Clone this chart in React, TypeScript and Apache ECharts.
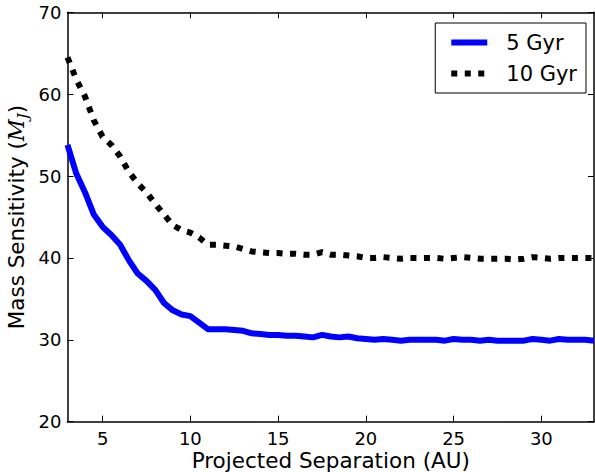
import React, { useEffect, useRef } from "react";
import * as echarts from "echarts";

// Projected separation (AU)
const separation = [
  3, 3.5, 4, 4.5, 5, 5.5, 6, 6.5, 7, 7.5, 8, 8.5, 9, 9.5, 10, 10.5, 11, 11.5, 12, 12.5,
  13, 13.5, 14, 14.5, 15, 15.5, 16, 16.5, 17, 17.5, 18, 18.5, 19, 19.5, 20, 20.5, 21, 21.5,
  22, 22.5, 23, 23.5, 24, 24.5, 25, 25.5, 26, 26.5, 27, 27.5, 28, 28.5, 29, 29.5, 30, 30.5,
  31, 31.5, 32, 32.5, 33,
];

// Mass sensitivity (M_J), 5 Gyr
const gyr5 = [
  53.8, 50.3, 48.0, 45.3, 43.8, 42.8, 41.6, 39.7, 38.1, 37.2, 36.1, 34.5, 33.6, 33.1, 32.9, 32.1,
  31.3, 31.3, 31.3, 31.2, 31.1, 30.8, 30.7, 30.6, 30.6, 30.5, 30.5, 30.4, 30.3, 30.6, 30.4, 30.3,
  30.4, 30.2, 30.1, 30.0, 30.1, 30.0, 29.9, 30.0, 30.0, 30.0, 30.0, 29.9, 30.1, 30.0, 30.0, 29.9,
  30.0, 29.9, 29.9, 29.9, 29.9, 30.1, 30.0, 29.9, 30.1, 30.0, 30.0, 30.0, 29.9,
];

// Mass sensitivity (M_J), 10 Gyr
const gyr10 = [
  64.5, 61.8, 59.7, 56.8, 54.8, 53.8, 52.4, 50.5, 49.1, 48.0, 46.6, 45.3, 44.0, 43.4, 43.1, 42.5,
  41.6, 41.6, 41.5, 41.4, 41.1, 40.8, 40.7, 40.6, 40.6, 40.5, 40.5, 40.4, 40.4, 40.7, 40.4, 40.4,
  40.3, 40.2, 40.0, 40.0, 40.1, 40.0, 39.9, 40.0, 40.0, 40.0, 40.0, 39.9, 40.0, 40.1, 40.0, 39.9,
  39.9, 39.9, 39.9, 39.8, 39.9, 40.1, 40.0, 39.9, 40.0, 40.0, 40.0, 40.0, 40.0,
];

const xTicks = [5, 10, 15, 20, 25, 30];
const seriesNames = ["5 Gyr", "10 Gyr"];

const FONT = "DejaVu Sans";
const DOTS: number[] = [6, 7.5];

export default function App() {
  const ref = useRef<HTMLDivElement>(null);

  useEffect(() => {
    if (!ref.current) return;
    const chart = echarts.init(ref.current, undefined, { renderer: "svg" });
    const axisLine = { show: true, onZero: false, lineStyle: { color: "#000", width: 1.5 } };
    const tick = { show: true, inside: true, length: 6, lineStyle: { color: "#000", width: 1 } };
    chart.setOption({
      animation: false,
      backgroundColor: "#fff",
      grid: {
        left: 67.5,
        top: 12.3,
        right: 1,
        bottom: 50.3,
        containLabel: false,
        outerBoundsMode: "none",
      },
      legend: {
        orient: "vertical",
        top: 23,
        right: 9,
        padding: [9, 9, 9, 13],
        itemGap: 10,
        itemWidth: 36,
        itemHeight: 20,
        borderColor: "#000",
        borderWidth: 1,
        borderRadius: 0,
        backgroundColor: "#fff",
        itemStyle: { opacity: 0 },
        textStyle: { fontSize: 21, fontFamily: FONT, color: "#000", padding: [0, 0, 0, 14] },
        data: [
          { name: seriesNames[0], itemStyle: { opacity: 0 }, lineStyle: { width: 6, color: "#0000ff", type: "solid" } },
          { name: seriesNames[1], itemStyle: { opacity: 0 }, lineStyle: { width: 6, color: "#000", type: DOTS } },
        ],
      },
      xAxis: [
        {
          type: "value",
          min: 3,
          max: 33,
          position: "bottom",
          name: "Projected Separation (AU)",
          nameLocation: "middle",
          nameGap: 28,
          nameMoveOverlap: false,
          nameTextStyle: { fontSize: 21.5, fontFamily: FONT, color: "#000", lineHeight: 22 },
          axisLine,
          axisTick: { ...tick, customValues: xTicks },
          axisLabel: {
            customValues: xTicks,
            fontSize: 18,
            lineHeight: 14,
            fontFamily: FONT,
            color: "#000",
            margin: 10,
          },
          splitLine: { show: false },
        },
        {
          type: "value",
          min: 3,
          max: 33,
          position: "top",
          axisLine,
          axisTick: { ...tick, customValues: xTicks },
          axisLabel: { show: false },
          splitLine: { show: false },
        },
      ],
      yAxis: [
        {
          type: "value",
          min: 20,
          max: 70,
          interval: 10,
          position: "left",
          name: "{a|Mass Sensitivity (}{m|M}{j|J}{a|)}",
          nameLocation: "middle",
          nameGap: 37,
          nameMoveOverlap: false,
          nameRotate: 90,
          nameTextStyle: {
            fontSize: 21.5,
            fontFamily: FONT,
            color: "#000",
            rich: {
              a: { fontSize: 21.5, fontFamily: FONT, color: "#000", lineHeight: 28, verticalAlign: "middle" },
              m: { fontSize: 21.5, fontFamily: "DejaVu Serif", fontStyle: "italic", color: "#000", lineHeight: 28, verticalAlign: "middle" },
              j: { fontSize: 15, fontFamily: "DejaVu Serif", fontStyle: "italic", color: "#000", lineHeight: 15, verticalAlign: "bottom" },
            },
          },
          axisLine,
          axisTick: tick,
          axisLabel: { fontSize: 18, fontFamily: FONT, color: "#000", margin: 6 },
          splitLine: { show: false },
        },
        {
          type: "value",
          min: 20,
          max: 70,
          interval: 10,
          position: "right",
          axisLine,
          axisTick: tick,
          axisLabel: { show: false },
          splitLine: { show: false },
        },
      ],
      series: [
        {
          name: seriesNames[0],
          type: "line",
          xAxisIndex: 0,
          yAxisIndex: 0,
          symbol: "none",
          color: "#0000ff",
          lineStyle: { width: 6, color: "#0000ff", join: "round" },
          data: separation.map((x, i) => [x, gyr5[i]]),
        },
        {
          name: seriesNames[1],
          type: "line",
          xAxisIndex: 0,
          yAxisIndex: 0,
          symbol: "none",
          color: "#000",
          lineStyle: { width: 6, color: "#000", type: DOTS, cap: "butt" },
          data: separation.map((x, i) => [x, gyr10[i]]),
        },
      ],
    });
    return () => chart.dispose();
  }, []);

  return (
    <div
      ref={ref}
      style={{ position: "fixed", left: 0, top: 0, width: 595, height: 472, background: "#fff" }}
    />
  );
}
